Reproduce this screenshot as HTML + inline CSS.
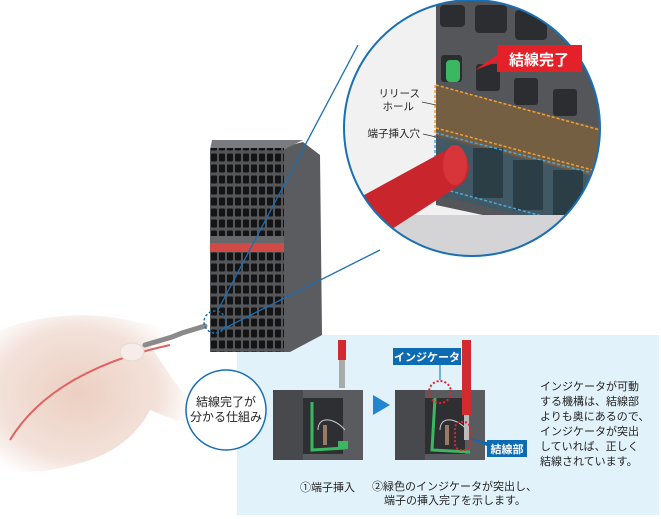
<!DOCTYPE html>
<html><head><meta charset="utf-8"><style>
html,body{margin:0;padding:0;background:#fff;}
svg{display:block;font-family:"Liberation Sans","Noto Sans CJK JP",sans-serif;}
</style></head><body>
<svg width="661" height="519" viewBox="0 0 661 519" xmlns="http://www.w3.org/2000/svg">
<defs>
<pattern id="holes" x="210" y="152" width="8" height="11" patternUnits="userSpaceOnUse">
<rect width="8" height="11" fill="#55565a"/><rect x="1" y="1.5" width="6" height="8" rx="1" fill="#141414"/>
</pattern>
<radialGradient id="hand" cx="0.4" cy="0.5" r="0.6"><stop offset="0" stop-color="#eccfc2"/><stop offset="0.7" stop-color="#f3e2da"/><stop offset="1" stop-color="#fff"/></radialGradient>
<clipPath id="zc"><circle cx="472" cy="128" r="128"/></clipPath>
</defs>
<rect x="237" y="335" width="422" height="180" fill="#e2f2fb"/>
<path d="M0 330 C40 315 90 310 135 322 L185 328 C195 332 192 345 180 345 L150 345 C160 360 175 385 190 400 C200 415 190 425 175 420 L150 410 C140 430 120 450 90 460 C60 470 30 475 0 470 Z" fill="url(#hand)"/>
<path d="M10 440 C40 390 100 360 170 345" stroke="#e06262" stroke-width="2" fill="none"/>
<path d="M145 345 L172 337 L182 333 L205 326" stroke="#8a8a8a" stroke-width="5" fill="none" stroke-linecap="round"/>
<ellipse cx="132" cy="352" rx="12" ry="9" fill="#f7ecea" stroke="#ddc" stroke-width="1"/>
<polygon points="283,147 303,142 320,155 322,335 290,352 283,352" fill="#5b5c60"/>
<polygon points="212,140 303,140 283,150 210,150" fill="#7a7b7f"/>
<rect x="210" y="148" width="74" height="90" fill="url(#holes)"/>
<rect x="210" y="236" width="74" height="8" fill="#66676b"/>
<rect x="210" y="243" width="74" height="9" fill="#d24a45"/>
<rect x="210" y="252" width="74" height="100" fill="url(#holes)"/>
<line x1="218" y1="310" x2="358" y2="45" stroke="#1a6fb4" stroke-width="1.3"/>
<line x1="221" y1="330" x2="380" y2="250" stroke="#1a6fb4" stroke-width="1.3"/>
<circle cx="215" cy="322" r="11" fill="none" stroke="#1a6fb4" stroke-width="1.5" stroke-dasharray="2.5,2"/>
<circle cx="472" cy="128" r="128" fill="#fff"/>
<g clip-path="url(#zc)">
<rect x="340" y="0" width="270" height="260" fill="#f1f1f1"/>
<polygon points="436,0 600,0 600,240 436,205" fill="#55565a"/>
<g fill="#2c2d30">
<rect x="440" y="5" width="25" height="22" rx="4"/><rect x="475" y="5" width="32" height="28" rx="4"/><rect x="515" y="10" width="32" height="30" rx="4"/>
<rect x="441" y="55" width="21" height="27" rx="3"/><rect x="476" y="64" width="24" height="27" rx="3"/><rect x="514" y="78" width="24" height="27" rx="3"/><rect x="553" y="89" width="24" height="27" rx="3"/>
</g>
<rect x="446" y="60" width="14" height="22" rx="4" fill="#3cb761"/>
<polygon points="436,85 600,128 600,178 436,135" fill="#7a6040" opacity="0.85"/>
<polygon points="436,138 600,178 600,235 436,195" fill="#3f5a66" opacity="0.9"/>
<g fill="#2b3e46"><rect x="473" y="148" width="30" height="50"/><rect x="513" y="160" width="30" height="50"/><rect x="553" y="170" width="30" height="50"/></g>
<polyline points="436,85 600,130" stroke="#f5a030" stroke-width="1.5" stroke-dasharray="3,2" fill="none"/>
<polyline points="436,128 600,172" stroke="#f5a030" stroke-width="1.5" stroke-dasharray="3,2" fill="none"/>
<line x1="435" y1="85" x2="435" y2="135" stroke="#f5a030" stroke-width="1.5" stroke-dasharray="3,2"/>
<polyline points="436,133 600,175" stroke="#4aa8e0" stroke-width="1.5" stroke-dasharray="3,2" fill="none"/>
<polyline points="436,187 600,232" stroke="#4aa8e0" stroke-width="1.5" stroke-dasharray="3,2" fill="none"/>
<line x1="435" y1="135" x2="435" y2="160" stroke="#4aa8e0" stroke-width="1.5" stroke-dasharray="3,2"/>
<rect x="340" y="215" width="270" height="50" fill="#d4d4d6"/>
<path d="M355 200 L450 148 C470 145 475 175 460 185 L375 240 Z" fill="#c8262c"/>
<ellipse cx="455" cy="165" rx="12" ry="20" fill="#d8353a"/>
</g>
<circle cx="472" cy="128" r="128" fill="none" stroke="#1a6fb4" stroke-width="2"/>
<text x="420" y="97" font-size="10.5" text-anchor="end" fill="#222">リリース</text>
<text x="414" y="110" font-size="10.5" text-anchor="end" fill="#222">ホール</text>
<line x1="422" y1="102" x2="436" y2="105" stroke="#333" stroke-width="0.8"/>
<text x="420" y="137" font-size="10.5" text-anchor="end" fill="#222">端子挿入穴</text>
<line x1="423" y1="134" x2="436" y2="137" stroke="#333" stroke-width="0.8"/>
<polygon points="497,45 582,45 582,72 497,72 497,62 475,70 497,55" fill="#e42128"/>
<text x="539" y="65" font-size="15" font-weight="bold" fill="#fff" text-anchor="middle">結線完了</text>
<circle cx="226" cy="410" r="40" fill="#fff" stroke="#1a6fb4" stroke-width="1.5"/>
<text x="226" y="406" font-size="12" text-anchor="middle" fill="#222">結線完了が</text>
<text x="226" y="421" font-size="12" text-anchor="middle" fill="#222">分かる仕組み</text>
<!-- pic 1 -->
<rect x="273" y="390" width="90" height="70" fill="#5a5b5e"/>
<rect x="273" y="390" width="30" height="70" fill="#48494c"/>
<rect x="303" y="398" width="40" height="56" fill="#2e2f32"/>
<path d="M312 402 L312 450 L345 448" stroke="#3cb761" stroke-width="3" fill="none"/>
<rect x="338" y="441" width="10" height="8" fill="#3cb761"/>
<path d="M318 430 C318 415 335 418 345 430" stroke="#ccc" stroke-width="1" fill="none"/>
<rect x="323" y="425" width="4" height="20" fill="#9a7a60"/>
<rect x="338" y="340" width="8" height="20" fill="#d22a2f"/>
<rect x="339" y="360" width="6" height="28" fill="#aaa"/>
<polygon points="373,395 390,405 373,415" fill="#1f86cf"/>
<!-- pic 2 -->
<rect x="395" y="390" width="90" height="70" fill="#5a5b5e"/>
<rect x="395" y="390" width="30" height="70" fill="#48494c"/>
<rect x="425" y="398" width="40" height="56" fill="#2e2f32"/>
<path d="M435 398 L432 450 L470 452" stroke="#3cb761" stroke-width="3" fill="none"/>
<path d="M440 430 C440 415 457 418 467 430" stroke="#ccc" stroke-width="1" fill="none"/>
<rect x="445" y="425" width="4" height="20" fill="#9a7a60"/>
<rect x="462" y="340" width="9" height="75" fill="#d22a2f"/>
<rect x="464" y="415" width="5" height="25" fill="#bbb"/>
<circle cx="440" cy="392" r="11" fill="none" stroke="#e42128" stroke-width="2" stroke-dasharray="2,2"/>
<rect x="455" y="422" width="15" height="28" rx="6" fill="none" stroke="#e42128" stroke-width="2" stroke-dasharray="2,2"/>
<rect x="393" y="348" width="68" height="17" fill="#0c6bb3"/>
<text x="427" y="361" font-size="11" font-weight="bold" fill="#fff" text-anchor="middle">インジケータ</text>
<line x1="440" y1="365" x2="440" y2="380" stroke="#0c6bb3" stroke-width="1"/>
<polygon points="468,438 487,442 487,446" fill="#0c6bb3"/>
<rect x="487" y="440" width="40" height="17" fill="#0c6bb3"/>
<text x="507" y="453" font-size="11" font-weight="bold" fill="#fff" text-anchor="middle">結線部</text>
<text x="300" y="491" font-size="11" fill="#222">①端子挿入</text>
<text x="372" y="490" font-size="11" fill="#222">②緑色のインジケータが突出し、</text>
<text x="384" y="504" font-size="11" fill="#222">端子の挿入完了を示します。</text>
<g font-size="11" fill="#222">
<text x="540" y="390">インジケータが可動</text>
<text x="540" y="405">する機構は、結線部</text>
<text x="540" y="420">よりも奥にあるので、</text>
<text x="540" y="435">インジケータが突出</text>
<text x="540" y="450">していれば、正しく</text>
<text x="540" y="465">結線されています。</text>
</g>
</svg>
</body></html>
